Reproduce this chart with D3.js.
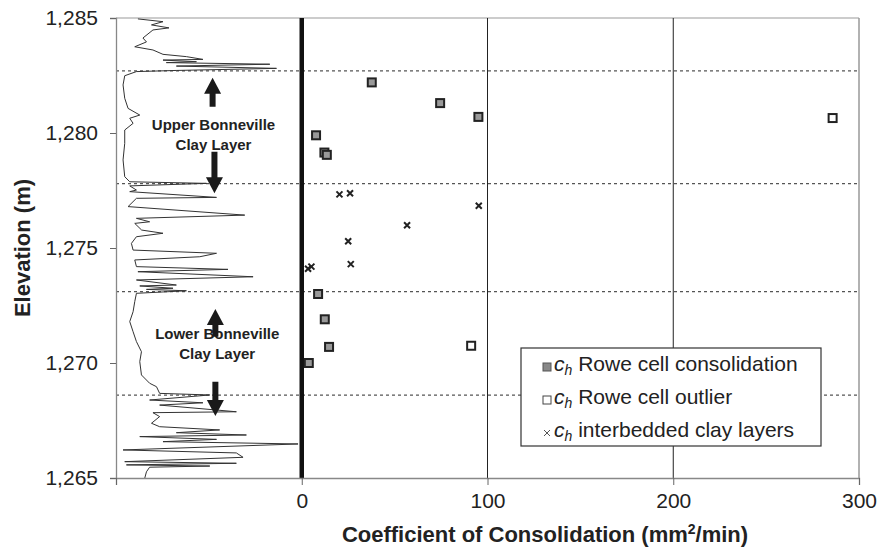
<!DOCTYPE html>
<html lang="en">
<head>
    <meta charset="UTF-8">
    <script src="https://d3js.org/d3.v7.min.js"></script>
    <style>
        body { margin: 0; background: #fff; }
        text { font-family: Arial, "Liberation Sans", sans-serif; }
    </style>
</head>
<body>
    <svg id="chart" width="879" height="548"></svg>

    <script>
        // axis ticks
        const elevTicks = [1265, 1270, 1275, 1280, 1285];
        const chTicks = [-100, 0, 100, 200, 300];
        const gridValues = [100, 200];

        // clay layer boundaries (m)
        const layerBounds = [1282.7, 1277.8, 1273.1, 1268.6];

        // ch Rowe cell consolidation
        const roweElev = [1282.2, 1281.3, 1280.7, 1279.9, 1279.15, 1279.05, 1273.0, 1271.9, 1270.7, 1270.0];
        const roweCh = [37.7, 74.5, 95.1, 7.7, 12.2, 13.5, 8.8, 12.4, 14.7, 3.8];

        // ch Rowe cell outlier
        const outlierElev = [1280.65, 1270.75];
        const outlierCh = [285.8, 91.2];

        // ch interbedded clay layers
        const interElev = [1277.33, 1277.38, 1276.84, 1275.99, 1275.29, 1274.3, 1274.1, 1274.19];
        const interCh = [20.3, 26.0, 95.3, 56.7, 25.0, 26.4, 3.4, 5.2];

        // CPT profile trace drawn left of zero
        const traceElev = [1284.96, 1284.84, 1284.70, 1284.57, 1284.48, 1284.13, 1283.96, 1283.75, 1283.61, 1283.42,
            1283.32, 1283.20, 1283.17, 1283.10, 1283.06, 1282.99, 1282.91, 1282.81, 1282.72, 1282.67,
            1282.49, 1282.09, 1281.51, 1281.07, 1280.78, 1280.64, 1280.42, 1280.13, 1279.55, 1278.83,
            1278.10, 1277.88, 1277.81, 1277.70, 1277.52, 1277.45, 1277.20, 1277.16, 1276.80, 1276.43,
            1276.29, 1276.14, 1276.07, 1275.78, 1275.64, 1275.49, 1275.20, 1274.91, 1274.77, 1274.62,
            1274.48, 1274.19, 1274.07, 1273.97, 1273.75, 1273.61, 1273.39, 1273.35, 1273.25, 1273.20,
            1273.14, 1273.03, 1272.67, 1272.23, 1271.80, 1271.36, 1270.93, 1270.49, 1270.06, 1269.48,
            1269.12, 1268.97, 1268.68, 1268.61, 1268.39, 1268.27, 1268.17, 1267.88, 1267.84, 1267.67,
            1267.38, 1267.23, 1267.09, 1266.97, 1266.87, 1266.80, 1266.68, 1266.58, 1266.48, 1266.22,
            1266.09, 1265.90, 1265.71, 1265.64, 1265.57, 1265.52, 1265.47, 1265.27, 1265.0];
        const traceVal = [-88.2, -74.7, -80.9, -71.5, -80.1, -85.5, -83.6, -89.9, -80.1, -74.7,
            -62.1, -53.2, -74.7, -56.7, -72.9, -17.2, -67.5, -13.6, -67.5, -89.0,
            -95.3, -96.2, -95.3, -93.5, -87.2, -92.6, -90.8, -95.3, -95.3, -96.2,
            -95.3, -92.6, -51.3, -92.6, -89.0, -92.6, -45.9, -89.0, -93.5, -30.7,
            -89.0, -81.9, -89.9, -86.2, -74.7, -89.0, -91.7, -90.8, -45.9, -54.9,
            -89.9, -89.0, -39.7, -88.2, -26.2, -89.0, -67.5, -87.2, -69.3, -83.6,
            -62.1, -89.0, -89.9, -90.8, -92.6, -90.8, -89.0, -86.3, -87.2, -86.3,
            -81.9, -78.2, -76.5, -49.5, -81.9, -53.2, -76.5, -35.2, -80.1, -76.5,
            -80.9, -76.5, -44.2, -67.5, -29.8, -87.2, -45.9, -74.7, -2.0, -96.2,
            -35.2, -31.6, -95.3, -35.2, -94.4, -49.5, -81.9, -83.6, -84.5];

        // layer labels and arrows
        const layerNames = ["Upper Bonneville", "Lower Bonneville"];
        const labelElev = [1280.15, 1271.05];
        const labelCh = [-47.5, -45.5];
        const arrowCh = [-48, -47, -46.5, -46.5];
        const arrowFrom = [1281.14, 1279.19, 1271.14, 1269.19];
        const arrowTo = [1282.4, 1277.38, 1272.35, 1267.7];

        const margin = { top: 18, right: 20, bottom: 70, left: 116 };
        const width = 879, height = 548;

        const svg = d3.select("#chart");

        const x = d3.scaleLinear().domain([-100, 300]).range([margin.left, width - margin.right]);
        const y = d3.scaleLinear().domain([1265, 1285]).range([height - margin.bottom, margin.top]);

        // frame
        svg.append("line")
            .attr("x1", x(-100)).attr("x2", x(300))
            .attr("y1", y(1285)).attr("y2", y(1285))
            .attr("stroke", "#999").attr("stroke-width", 1.2);
        svg.append("line")
            .attr("x1", x(300)).attr("x2", x(300))
            .attr("y1", y(1285)).attr("y2", y(1265))
            .attr("stroke", "#999").attr("stroke-width", 1.5);

        // vertical gridlines
        svg.selectAll(".grid")
            .data(gridValues)
            .enter().append("line")
            .attr("class", "grid")
            .attr("x1", d => x(d)).attr("x2", d => x(d))
            .attr("y1", y(1285)).attr("y2", y(1265))
            .attr("stroke", "#222").attr("stroke-width", 1);

        // layer boundaries
        svg.selectAll(".bound")
            .data(layerBounds)
            .enter().append("line")
            .attr("class", "bound")
            .attr("x1", x(-100)).attr("x2", x(300))
            .attr("y1", d => y(d)).attr("y2", d => y(d))
            .attr("stroke", "#555").attr("stroke-width", 1.2)
            .attr("stroke-dasharray", "3,3");

        // CPT trace
        const traceData = traceElev.map((e, i) => ({ e: e, v: traceVal[i] }));
        svg.append("path")
            .datum(traceData)
            .attr("d", d3.line().x(d => x(d.v)).y(d => y(d.e)))
            .attr("fill", "none")
            .attr("stroke", "#333")
            .attr("stroke-width", 1);

        // thick zero line
        svg.append("line")
            .attr("x1", x(0)).attr("x2", x(0))
            .attr("y1", y(1285)).attr("y2", y(1265))
            .attr("stroke", "#111").attr("stroke-width", 4.5);

        // axes
        const yAxis = svg.append("g")
            .attr("transform", `translate(${margin.left},0)`)
            .call(d3.axisLeft(y).tickValues(elevTicks).tickFormat(d3.format(",")).tickSize(6).tickPadding(12));
        const xAxis = svg.append("g")
            .attr("transform", `translate(0,${height - margin.bottom})`)
            .call(d3.axisBottom(x).tickValues(chTicks).tickFormat(d => d < 0 ? "" : d).tickSize(7).tickPadding(8));
        [yAxis, xAxis].forEach(g => {
            g.select(".domain").attr("stroke", "#888").attr("stroke-width", 1.3);
            g.selectAll(".tick line").attr("stroke", "#666");
            g.selectAll(".tick text")
                .attr("fill", "#222")
                .style("font-size", "21px")
                .style("font-family", "Arial, 'Liberation Sans', sans-serif");
        });

        // annotations
        layerNames.forEach((name, i) => {
            const t = svg.append("text")
                .attr("x", x(labelCh[i]))
                .attr("y", y(labelElev[i]))
                .attr("text-anchor", "middle")
                .attr("font-weight", "bold")
                .attr("font-size", 15)
                .attr("fill", "#222");
            t.append("tspan").attr("x", x(labelCh[i])).text(name);
            t.append("tspan").attr("x", x(labelCh[i])).attr("dy", 20).text("Clay Layer");
        });

        arrowCh.forEach((c, i) => {
            const cx = x(c), y0 = y(arrowFrom[i]), y1 = y(arrowTo[i]);
            const dir = y1 < y0 ? -1 : 1;
            const head = 16, hw = 8.5, sw = 3;
            const yb = y1 - dir * head;
            svg.append("path")
                .attr("d", `M${cx - sw},${y0} L${cx - sw},${yb} L${cx - hw},${yb} L${cx},${y1} L${cx + hw},${yb} L${cx + sw},${yb} L${cx + sw},${y0} Z`)
                .attr("fill", "#1a1a1a");
        });

        // data points
        const roweData = roweElev.map((e, i) => ({ e: e, c: roweCh[i] }));
        const outlierData = outlierElev.map((e, i) => ({ e: e, c: outlierCh[i] }));
        const interData = interElev.map((e, i) => ({ e: e, c: interCh[i] }));

        svg.selectAll(".rowe")
            .data(roweData)
            .enter().append("rect")
            .attr("class", "rowe")
            .attr("x", d => x(d.c) - 4).attr("y", d => y(d.e) - 4)
            .attr("width", 8).attr("height", 8)
            .attr("fill", "#999").attr("stroke", "#222").attr("stroke-width", 2);

        svg.selectAll(".outlier")
            .data(outlierData)
            .enter().append("rect")
            .attr("class", "outlier")
            .attr("x", d => x(d.c) - 4).attr("y", d => y(d.e) - 4)
            .attr("width", 8).attr("height", 8)
            .attr("fill", "#fff").attr("stroke", "#222").attr("stroke-width", 2);

        svg.selectAll(".inter")
            .data(interData)
            .enter().append("path")
            .attr("class", "inter")
            .attr("transform", d => `translate(${x(d.c)},${y(d.e)})`)
            .attr("d", "M-3,-3L3,3M-3,3L3,-3")
            .attr("stroke", "#222").attr("stroke-width", 2);

        // axis titles
        svg.append("text")
            .attr("transform", `translate(30,${(margin.top + height - margin.bottom) / 2}) rotate(-90)`)
            .attr("text-anchor", "middle")
            .attr("font-weight", "bold")
            .attr("font-size", 22)
            .attr("fill", "#222")
            .text("Elevation (m)");

        const xTitle = svg.append("text")
            .attr("x", 545).attr("y", 542)
            .attr("text-anchor", "middle")
            .attr("font-weight", "bold")
            .attr("font-size", 22)
            .attr("fill", "#222");
        xTitle.append("tspan").text("Coefficient of Consolidation (mm");
        xTitle.append("tspan").attr("font-size", 14).attr("dy", -8).text("2");
        xTitle.append("tspan").attr("dy", 8).text("/min)");

        // legend
        const legendItems = ["Rowe cell consolidation", "Rowe cell outlier", "interbedded clay layers"];
        const legend = svg.append("g").attr("transform", "translate(521,348)");
        legend.append("rect")
            .attr("width", 300).attr("height", 98)
            .attr("fill", "#fff").attr("stroke", "#333").attr("stroke-width", 1.2);

        legendItems.forEach((label, i) => {
            const row = legend.append("g").attr("transform", `translate(0,${23 + i * 33})`);
            if (i === 0) {
                row.append("rect").attr("x", 22).attr("y", -8).attr("width", 8).attr("height", 8)
                    .attr("fill", "#888").attr("stroke", "#555").attr("stroke-width", 1);
            } else if (i === 1) {
                row.append("rect").attr("x", 22).attr("y", -8).attr("width", 8).attr("height", 8)
                    .attr("fill", "#fff").attr("stroke", "#444").attr("stroke-width", 1);
            } else {
                row.append("path").attr("transform", "translate(26,-4)")
                    .attr("d", "M-3,-3L3,3M-3,3L3,-3")
                    .attr("stroke", "#555").attr("stroke-width", 1);
            }
            const t = row.append("text").attr("x", 33).attr("y", 0)
                .attr("font-size", 21).attr("fill", "#222");
            t.append("tspan").attr("font-style", "italic").text("c");
            t.append("tspan").attr("font-style", "italic").attr("font-size", 14).attr("dy", 4).text("h");
            t.append("tspan").attr("dy", -4).text(" " + label);
        });
    </script>
</body>
</html>
